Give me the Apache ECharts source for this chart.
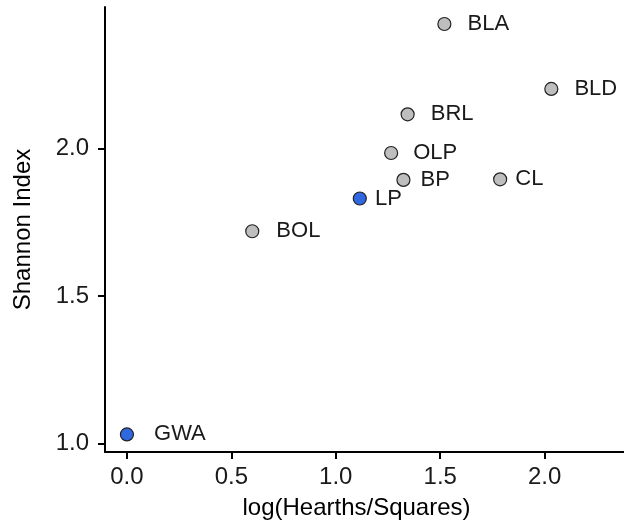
<!DOCTYPE html>
<html>
<head>
<meta charset="utf-8">
<script src="https://cdn.jsdelivr.net/npm/echarts@6/dist/echarts.min.js"></script>
<style>
html,body{margin:0;padding:0;background:#fff;}
#chart{width:624px;height:529px;}
</style>
</head>
<body>
<div id="chart"></div>
<script>
const sites = ['GWA','BOL','LP','BP','OLP','BRL','CL','BLA','BLD'];
const logHearthsSquares = [0.00, 0.60, 1.115, 1.324, 1.265, 1.344, 1.787, 1.52, 2.032];
const shannonIndex = [1.031, 1.719, 1.830, 1.893, 1.984, 2.115, 1.895, 2.421, 2.201];
const highlighted = [true, false, true, false, false, false, false, false, false];
const xTicks = [0, 0.5, 1.0, 1.5, 2.0];
const yTicks = [1.0, 1.5, 2.0];

// label gap (styling) per point
const labelGap = [20, 17, 8, 10, 15, 16, 8, 16, 16];

const font = 'Liberation Sans, Arial, sans-serif';
const chart = echarts.init(document.getElementById('chart'), null, {renderer: 'canvas'});

const data = sites.map((s, i) => ({
  value: [logHearthsSquares[i], shannonIndex[i]],
  name: s,
  itemStyle: {color: highlighted[i] ? '#2F68E0' : '#BEBEBE'},
  label: {distance: labelGap[i]}
}));

chart.setOption({
  animation: false,
  grid: {left: 105, top: 7, right: 0, bottom: 77, containLabel: false},
  xAxis: {
    type: 'value',
    min: -0.105, max: 2.38,
    name: 'log(Hearths/Squares)',
    nameLocation: 'middle',
    nameGap: 44,
    nameTextStyle: {fontFamily: font, fontSize: 24, color: '#000', padding: [0, 16, 0, 0]},
    splitLine: {show: false},
    axisLine: {show: true, onZero: false, lineStyle: {color: '#000', width: 2}},
    axisTick: {show: true, customValues: xTicks, length: 7, lineStyle: {color: '#000', width: 2}},
    axisLabel: {customValues: xTicks, fontFamily: font, fontSize: 24, color: '#1a1a1a', margin: 13,
      formatter: v => v.toFixed(1)}
  },
  yAxis: {
    type: 'value',
    min: 0.9715, max: 2.4785,
    name: 'Shannon Index',
    nameLocation: 'middle',
    nameGap: 70,
    nameTextStyle: {fontFamily: font, fontSize: 24, color: '#000'},
    splitLine: {show: false},
    axisLine: {show: true, onZero: false, lineStyle: {color: '#000', width: 2}},
    axisTick: {show: true, customValues: yTicks, length: 7, lineStyle: {color: '#000', width: 2}},
    axisLabel: {customValues: yTicks, fontFamily: font, fontSize: 24, color: '#1a1a1a', margin: 16,
      formatter: v => v.toFixed(1)}
  },
  series: [{
    type: 'scatter',
    symbol: 'circle',
    symbolSize: 13,
    itemStyle: {borderColor: '#222', borderWidth: 1.2, opacity: 1},
    label: {show: true, position: 'right', formatter: '{b}', fontFamily: font, fontSize: 22, color: '#1a1a1a'},
    data: data
  }]
});
</script>
</body>
</html>
